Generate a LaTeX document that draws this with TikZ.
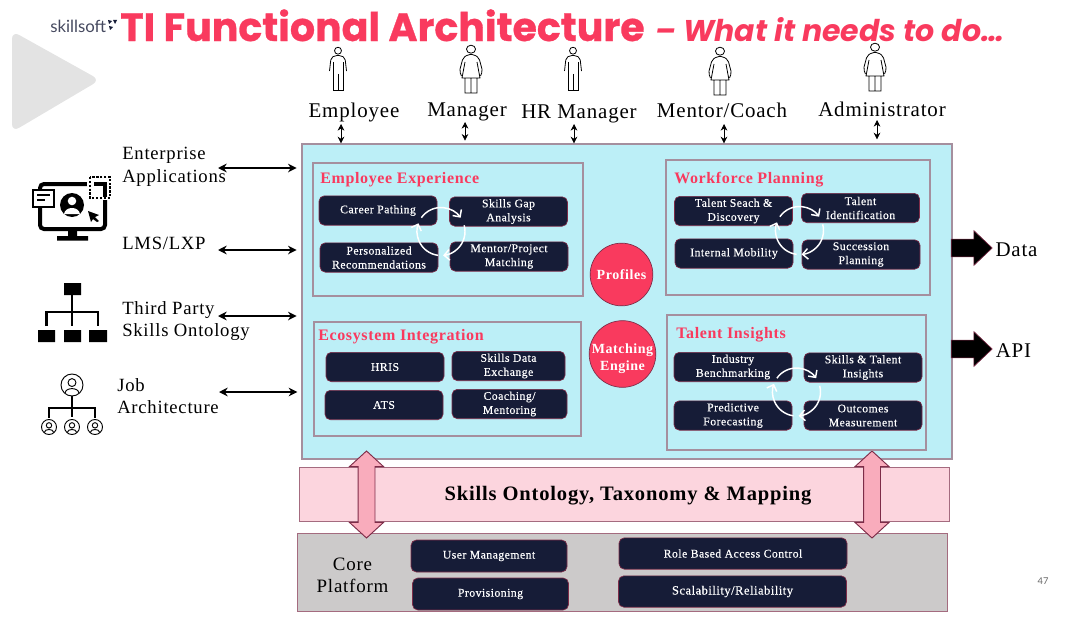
\documentclass[tikz,border=0pt]{standalone}
\usepackage{fontspec}
\setmainfont[LetterSpace=4]{Liberation Serif}
\newfontfamily\boxfont[LetterSpace=4,FakeBold=0.35]{Liberation Serif}
\newfontfamily\titlefont[BoldFeatures={FakeBold=0.8}]{Poppins}
\newfontfamily\logofont{Lato}
\usetikzlibrary{arrows.meta,shapes.arrows}
\definecolor{tired}{HTML}{F93A5E}
\definecolor{tinavy}{HTML}{161C37}
\definecolor{tiedge}{HTML}{7D2C48}
\definecolor{ticyan}{HTML}{BCEFF7}
\definecolor{tiframe}{HTML}{A58F9E}
\definecolor{tipink}{HTML}{FCD5DE}
\definecolor{tirose}{HTML}{F9ACBC}
\definecolor{tigray}{HTML}{CCCACA}
\tikzset{
  darkbox/.style={draw=tiedge, line width=0.5pt, fill=tinavy, text=white, rounded corners=4pt,
    align=center, inner sep=0pt, minimum width=88.5pt, minimum height=22pt,
    font=\boxfont\fontsize{8.8}{10.5}\selectfont},
  panel/.style={draw=tiframe, line width=0.85pt, inner sep=0pt},
  paneltitle/.style={anchor=base west, inner sep=0pt, text=tired, font=\fontsize{12}{14}\selectfont\bfseries},
  rolelabel/.style={anchor=base, inner sep=0pt, font=\fontsize{15.7}{18}\selectfont},
  sidelabel/.style={anchor=west, align=left, inner sep=0pt, font=\fontsize{14}{17}\selectfont},
  hublabel/.style={circle, draw=tiedge, line width=0.5pt, fill=tired, text=white, align=center, inner sep=0pt,
    font=\fontsize{10.5}{12.8}\selectfont\bfseries},
  sidelink/.style={{Stealth[length=6.5pt,width=6.5pt]}-{Stealth[length=6.5pt,width=6.5pt]}, line width=1.4pt},
  rolelink/.style={{Stealth[length=5pt,width=5pt]}-{Stealth[length=5pt,width=5pt]}, line width=0.5pt},
  cyclelink/.style={-{Straight Barb[length=4pt,width=8pt]}, draw=white, line width=1.1pt},
  liftarrow/.style={double arrow, rotate=90, draw=tiedge, line width=0.7pt, fill=tirose, inner sep=0pt, inner ysep=6pt,
    minimum height=65.25pt, minimum width=24.75pt, double arrow head extend=6.4pt, double arrow tip angle=95},
  exportarrow/.style={single arrow, draw=tiedge, line width=0.5pt, fill=black, inner sep=0pt, inner ysep=6.4pt,
    minimum height=30.75pt, minimum width=25.5pt, single arrow head extend=6.4pt, single arrow tip angle=87},
  man/.pic={
    \draw[line width=0.6pt] (0,3.7) circle [radius=2.6pt];
    \draw[line width=0.6pt, rounded corners=1.5pt] (-8.5,24) -- (-7,11) -- (-3,8.5) -- (3,8.5) -- (7,11) -- (8.5,24);
    \draw[line width=0.6pt] (-5,15) -- (-5,43) -- (5,43) -- (5,15) (0,27) -- (0,43);
  },
  woman/.pic={
    \draw[line width=0.6pt] (0,4.2) ellipse [x radius=3.4pt, y radius=3pt];
    \draw[line width=0.6pt, rounded corners=1.5pt] (-9.5,31) -- (-11.5,26) -- (-8,13) -- (-3,9.5) -- (3,9.5) -- (8,13) -- (11.5,26) -- (9.5,31);
    \draw[line width=0.6pt] (-6,17) -- (-9,33) -- (9,33) -- (6,17) (-6,33) -- (-6,48) -- (6,48) -- (6,33) (0,33) -- (0,48);
  },
  jobface/.pic={
    \draw[line width=0.7pt, fill=white] (0,0) circle [radius=1];
    \draw[line width=0.7pt] (0,-0.22) circle [radius=0.36];
    \draw[line width=0.7pt] (-0.62,0.72) .. controls (-0.6,0.2) and (0.6,0.2) .. (0.62,0.72);
  },
}
\newcommand{\cyclearrows}[1]{
  \draw[cyclelink] (#1) ++(145:18pt) arc [start angle=145, end angle=35, radius=18pt];
  \draw[cyclelink] (#1) ++(15:18pt) arc [start angle=15, end angle=-85, radius=18pt];
  \draw[cyclelink] (#1) ++(-97:18pt) arc [start angle=-97, end angle=-200, radius=18pt];
}
\begin{document}
\begin{tikzpicture}[x=0.75pt,y=-0.75pt]
  \useasboundingbox (0,0) rectangle (1080,617);

  \fill[fill=black!11, rounded corners=6pt] (12,31) -- (12,132) -- (100,80) -- cycle;

  \node[anchor=base west, inner sep=0pt, text=tinavy!80, font=\logofont\fontsize{12.6}{14}\selectfont] (logo) at (50,33) {skillsoft};
  \fill[tinavy] (108,20) -- (112,21) -- (109,24) -- cycle (113,20) -- (117,20) -- (115,24) -- cycle (109,26) -- (113,27) -- (110,30) -- cycle;
  \node[anchor=base west, inner sep=0pt, text=tired, font=\titlefont\bfseries\fontsize{29.6}{34}\selectfont] (title) at (120,41) {TI Functional Architecture};
  \node[anchor=base west, inner sep=0pt, text=tired, font=\titlefont\bfseries\itshape\fontsize{22.5}{26}\selectfont] (subtitle) at (655,41) {– What it needs to do…};

  \node[draw=tiframe, line width=1pt, fill=ticyan, inner sep=0pt, minimum width=487.5pt, minimum height=236.25pt] (main) at (627,301.5) {};
  \node[draw=tiedge!70, line width=0.7pt, fill=tipink, inner sep=0pt, minimum width=487.5pt, minimum height=40.5pt] (ontology) at (624,494) {};
  \node[draw=tiedge!70, line width=0.7pt, fill=tigray, inner sep=0pt, minimum width=487.5pt, minimum height=58.5pt] (core) at (622,572) {};
  \node[inner sep=0pt, font=\fontsize{15.4}{18}\selectfont\bfseries] (ontologytext) at (628,496) {Skills Ontology, Taxonomy \& Mapping};
  \node[liftarrow] (liftL) at (366.5,494.5) {};
  \node[liftarrow] (liftR) at (872,494.5) {};

  \node[panel, minimum width=202.5pt, minimum height=99.75pt] (employee) at (448,229.5) {};
  \node[panel, minimum width=198pt, minimum height=101.25pt] (workforce) at (798,227.5) {};
  \node[panel, minimum width=200.25pt, minimum height=85.5pt] (ecosystem) at (447.5,379) {};
  \node[panel, minimum width=194.25pt, minimum height=101.25pt] (insights) at (796.5,382.5) {};
  \node[paneltitle] (employeeT) at (320,183) {Employee Experience};
  \node[paneltitle] (workforceT) at (674,183) {Workforce Planning};
  \node[paneltitle] (ecosystemT) at (318,340) {Ecosystem Integration};
  \node[paneltitle] (insightsT) at (676,338) {Talent Insights};

  \node[darkbox] (career) at (378,210.5) {Career Pathing};
  \node[darkbox] (gap) at (508.5,211.5) {Skills Gap\\Analysis};
  \node[darkbox] (personal) at (379,257.5) {Personalized\\Recommendations};
  \node[darkbox] (mentor) at (509,256.5) {Mentor/Project\\Matching};
  \node[darkbox] (seach) at (733.5,211) {Talent Seach \&\\Discovery};
  \node[darkbox] (talentid) at (860.5,208) {Talent\\Identification};
  \node[darkbox] (mobility) at (734,253.5) {Internal Mobility};
  \node[darkbox] (succession) at (861,254.5) {Succession\\Planning};
  \node[darkbox] (hris) at (385,367) {HRIS};
  \node[darkbox, minimum width=84.75pt] (exchange) at (508.5,366) {Skills Data\\Exchange};
  \node[darkbox] (ats) at (384,405) {ATS};
  \node[darkbox, minimum width=86.25pt] (coaching) at (509.5,404) {Coaching/\\Mentoring};
  \node[darkbox] (industry) at (733,367) {Industry\\Benchmarking};
  \node[darkbox] (skillstalent) at (863,367.5) {Skills \& Talent\\Insights};
  \node[darkbox] (predictive) at (733,415.5) {Predictive\\Forecasting};
  \node[darkbox] (outcomes) at (863,415.5) {Outcomes\\Measurement};

  \node[darkbox, minimum width=117pt, minimum height=24pt] (usermgmt) at (489,556) {User Management};
  \node[darkbox, minimum width=117pt, minimum height=24pt] (provision) at (490.5,594) {Provisioning};
  \node[darkbox, minimum width=171pt, minimum height=23.5pt] (rolebased) at (733,553.5) {Role Based Access Control};
  \node[darkbox, minimum width=171pt, minimum height=23.5pt] (scalable) at (732.5,591.5) {\fontsize{9.4}{11}\selectfont Scalability/Reliability};

  \coordinate (cycleE) at (441,231.5);
  \coordinate (cycleW) at (799.5,230.5);
  \coordinate (cycleT) at (796.5,392);
  \cyclearrows{cycleE}
  \cyclearrows{cycleW}
  \cyclearrows{cycleT}

  \node[hublabel, minimum size=47pt] (profiles) at (621.5,274.5) {Profiles};
  \node[hublabel, inner sep=-2.5pt, minimum size=50pt] (matching) at (622.5,354) {\rule{0pt}{14pt}Matching\\Engine};

  \pic at (338,47) {man};
  \pic at (471,45) {woman};
  \pic at (573,47) {man};
  \pic at (720,47) {woman};
  \pic at (875,43) {woman};
  \node[rolelabel] (employeeR) at (354,117) {Employee};
  \node[rolelabel] (managerR) at (467,116.7) {Manager};
  \node[rolelabel] (hrR) at (579,118) {HR Manager};
  \node[rolelabel] (mentorR) at (722,117.7) {Mentor/Coach};
  \node[rolelabel] (adminR) at (882,116.7) {Administrator};
  \coordinate (employeeA) at (341,124);
  \coordinate (managerA) at (465,122);
  \coordinate (hrA) at (574,124);
  \coordinate (mentorA) at (724,124);
  \coordinate (adminA) at (877,120);
  \draw[rolelink] (employeeA) -- (employeeA |- main.north);
  \draw[rolelink, shorten >=2pt] (managerA) -- (managerA |- main.north);
  \draw[rolelink] (hrA) -- (hrA |- main.north);
  \draw[rolelink] (mentorA) -- (mentorA |- main.north);
  \draw[rolelink, shorten >=3pt] (adminA) -- (adminA |- main.north);

  \node[sidelabel] (enterprise) at (122,166.5) {Enterprise\\Applications};
  \node[sidelabel] (lms) at (122,243) {LMS/LXP};
  \node[sidelabel] (thirdparty) at (122,321) {Third Party\\Skills Ontology};
  \node[sidelabel] (jobarch) at (117,396) {Job\\Architecture};
  \coordinate (enterpriseA) at (218,168);
  \coordinate (lmsA) at (218,250);
  \coordinate (thirdpartyA) at (218,316);
  \coordinate (jobarchA) at (219,392);
  \draw[sidelink, shorten >=3.5pt] (enterpriseA) -- (enterpriseA -| main.west);
  \draw[sidelink, shorten >=3.5pt] (lmsA) -- (lmsA -| main.west);
  \draw[sidelink, shorten >=3.5pt] (thirdpartyA) -- (thirdpartyA -| main.west);
  \draw[sidelink, shorten >=3pt] (jobarchA) -- (jobarchA -| main.west);

  \node[exportarrow] (dataA) at (967,248) {};
  \node[exportarrow] (apiA) at (967,349) {};
  \node[rolelabel] (data) at (1016.5,256) {Data};
  \node[rolelabel] (api) at (1013.5,357.7) {API};

  \node[align=center, inner sep=0pt, font=\fontsize{14.2}{16.5}\selectfont] (coreL) at (352.5,575) {Core\\Platform};
  \node[inner sep=0pt, text=black!60, font=\logofont\fontsize{7}{8}\selectfont] (pagenum) at (1043,581) {47};

  % monitor icon
  \draw[line width=3pt, rounded corners=3pt] (40,184) rectangle (105,229);
  \fill (68,229) rectangle (77,238) (57,236) rectangle (88,240.5);
  \draw[line width=1.6pt, fill=white] (33,190) rectangle (54,207);
  \draw[line width=1.2pt] (37,195) -- (50,195) (37,200) -- (45,200);
  \fill[white] (87,174) rectangle (112,200);
  \draw[line width=1.7pt, dash pattern=on 1.7pt off 1.2pt] (90,177) rectangle (110,198);
  \draw[line width=3pt] (94,184) -- (105,184) -- (105,197);
  \fill (72,205) circle [radius=9pt];
  \fill[white] (72,201) circle [radius=3.2pt];
  \fill[white] (64,214) .. controls (65,206) and (79,206) .. (80,214) -- cycle;
  \fill (88,211) -- (99,215) -- (95,217) -- (99,221) -- (97,222) -- (93,219) -- (91,222) -- cycle;

  % org chart icon
  \fill (64,283) rectangle (81,295) (38,330) rectangle (55,342) (64,330) rectangle (81,342) (89,330) rectangle (107,342);
  \draw[line width=1.8pt] (72,295) -- (72,326) (46.5,326) -- (46.5,312) -- (98,312) -- (98,326);

  % job architecture icon
  \draw[line width=0.8pt] (72,396) -- (72,417) (49,418) -- (49,408) -- (95,408) -- (95,418);
  \pic[scale=11] at (72,385) {jobface};
  \pic[scale=7.5] at (49,427) {jobface};
  \pic[scale=7.5] at (72,427) {jobface};
  \pic[scale=7.5] at (95,427) {jobface};
\end{tikzpicture}
\end{document}
